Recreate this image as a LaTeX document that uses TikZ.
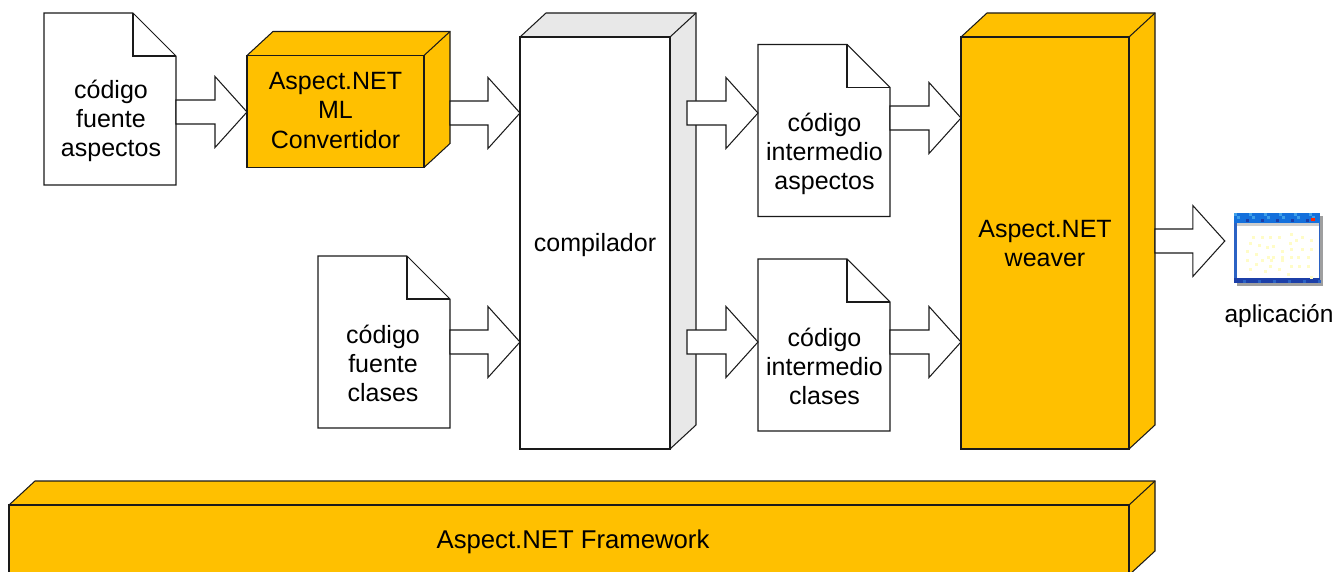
\documentclass[tikz,border=0pt]{standalone}
\usepackage{fontspec}
\setmainfont{Liberation Sans}
\usetikzlibrary{calc}
\definecolor{amber}{HTML}{FFC000}
\definecolor{sidegray}{HTML}{E8E8E8}
\definecolor{edge}{HTML}{1A1A1A}
\definecolor{iconA}{HTML}{2B62C4}
\definecolor{iconB}{HTML}{1C3FA8}
\definecolor{iconC}{HTML}{1470DC}
\definecolor{iconD}{HTML}{3FA0E8}
\tikzset{
  x=1pt,y=-1pt,
  edgeline/.style={draw=edge,line width=1.05pt,line join=miter},
  face/.style={edgeline,inner sep=0pt,outer sep=0pt,anchor=north west},
  lbl/.style={align=center,font=\fontsize{25}{29.3}\selectfont,inner sep=0pt,text=black},
  arrowshape/.style={edgeline,fill=white},
}
% \docshape{name}{x}{y}: page of 132x172 with a folded corner
\newcommand{\docshape}[3]{%
  \node[inner sep=0pt,outer sep=0pt,anchor=north west,minimum width=132pt,minimum height=172pt] (#1) at (#2,#3) {};
  \draw[edgeline,fill=white] (#1.north west) -- ++(89,0) -- (#1.north east |- 0,#3+43) -- (#1.south east) -- (#1.south west) -- cycle;
  \draw[edgeline] ($(#1.north west)+(89,0)$) -- ++(0,43) -- ++(43,0);
}
% \boxshape{name}{x}{y}{w}{h}{front}{side}: a cuboid seen from above right
\newcommand{\boxshape}[7]{%
  \fill[#7] (#2,#3) -- ++(26,-24) -- ++(#4,0) -- ++(0,#5) -- ++(-26,24) -- ++(0,-#5) -- cycle;
  \draw[edgeline] (#2,#3) -- ++(26,-24) -- ++(#4,0) -- ++(0,#5) -- ++(-26,24);
  \draw[edgeline] (#2+#4,#3) -- ++(26,-24);
  \node[face,fill=#6,minimum width=#4pt,minimum height=#5pt] (#1) at (#2,#3) {};
}
% \blockarrow{from}{dx}{to}{y}: outlined arrow along height y, from from.east (+dx) to to.west
\newcommand{\blockarrow}[4]{%
  \draw[arrowshape] let \p1=($(#1.east)+(#2,0)$), \p2=(#3.west) in
    (\x1,#4-12) -- (\x2-32pt,#4-12) -- (\x2-32pt,#4-35.5) -- (\x2,#4) --
    (\x2-32pt,#4+35.5) -- (\x2-32pt,#4+12) -- (\x1,#4+12) -- cycle;
}
\begin{document}
\begin{tikzpicture}
\useasboundingbox (0,0) rectangle (1343,572);

\docshape{srcasp}{44}{13}
\docshape{srccls}{318}{256}
\docshape{intasp}{758}{44.5}
\docshape{intcls}{758}{259}
\boxshape{conv}{247}{55.5}{177}{112}{amber}{amber}
\boxshape{comp}{520}{37}{150}{412}{white}{sidegray}
\boxshape{weav}{961}{37}{168}{412}{amber}{amber}
\boxshape{fram}{9}{505}{1120}{70}{amber}{amber}

\blockarrow{srcasp}{0}{conv}{112}
\blockarrow{conv}{26}{comp}{113}
\blockarrow{srccls}{0}{comp}{342}
\blockarrow{comp}{17}{intasp}{113}
\blockarrow{comp}{17}{intcls}{342}
\blockarrow{intasp}{0}{weav}{118}
\blockarrow{intcls}{0}{weav}{342}
\coordinate (appin) at (1225,241);
\node[inner sep=0pt,minimum size=0pt] (app) at (appin) {};
\blockarrow{weav}{26}{app}{241}

% application icon
\fill[gray!75] (1237,216) rectangle (1323,286);
\fill[iconA] (1234,213) rectangle (1320,283);
\fill[iconC] (1234,213) rectangle (1320,223);
\fill[iconB] (1234,278) rectangle (1320,283);
\foreach \k in {0,...,28}{
  \pgfmathtruncatemacro{\m}{mod(\k*7,5)}
  \ifnum\m=0 \fill[iconD] (1234+3*\k,213) rectangle ++(3,3);\fi
  \ifnum\m=2 \fill[iconD] (1234+3*\k,216) rectangle ++(3,3);\fi
  \ifnum\m=3 \fill[iconB] (1234+3*\k,219) rectangle ++(3,3);\fi
  \ifnum\m=1 \fill[iconA] (1234+3*\k,280) rectangle ++(3,3);\fi
}
\fill[red!70!orange] (1311,218) rectangle ++(4,3);
\fill[gray!40] (1237,223) rectangle (1319,226);
\fill[white] (1237,226) rectangle (1319,278);
\foreach \px/\py in {1252/236,1261/236,1269/236,1278/236,1290/233,1295/239,1301/236,1310/239,
  1249/242,1258/244,1266/246,1272/245,1281/250,1289/242,1290/248,1301/248,1310/248,
  1246/250,1255/253,1267/256,1272/256,1281/256,1290/256,1297/256,1307/256,
  1246/259,1255/263,1261/259,1270/259,1281/259,1290/265,1298/265,1307/265,
  1249/268,1264/270,1269/265,1278/268,1287/273,1310/276}
  \fill[yellow!22] (\px,\py) rectangle ++(3,3);

\node[lbl] (t1) at (111,121) {código\\fuente\\aspectos};
\node[lbl] (t2) at (335.5,110.5) {Aspect.NET\\ML\\Convertidor};
\node[lbl] (t3) at (383,363.5) {\fontsize{25}{30.5}\selectfont código\\fuente\\clases};
\node[lbl] (t4) at (595,245) {compilador};
\node[lbl] (t5) at (824.5,154) {código\\intermedio\\aspectos};
\node[lbl] (t6) at (824.5,366.5) {código\\intermedio\\clases};
\node[lbl] (t7) at (1045,243.5) {Aspect.NET\\weaver};
\node[lbl] (t8) at (1279,316) {\fontsize{24.5}{29}\selectfont aplicación};
\node[lbl] (t9) at (573,542) {\fontsize{25.7}{29}\selectfont Aspect.NET Framework};
\end{tikzpicture}
\end{document}
